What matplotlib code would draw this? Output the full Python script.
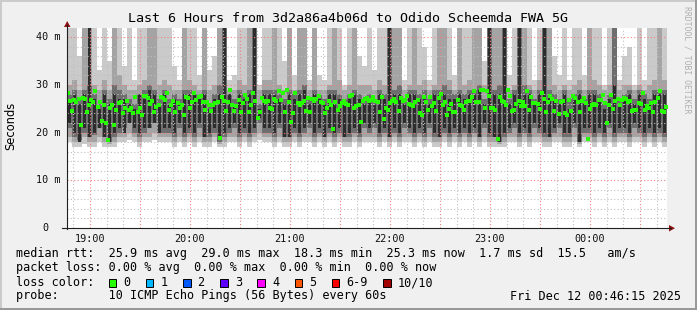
import numpy as np
import matplotlib
matplotlib.use('Agg')
import matplotlib.pyplot as plt
from matplotlib.lines import Line2D
from matplotlib.patches import Rectangle, Polygon
from matplotlib.transforms import blended_transform_factory

# time axis: hours since midnight of Dec 11, end = 00:46:15
endTime = 24 + 46 / 60 + 15 / 3600
spanHours = 6.0

# smoke layers, 120 slots of 3 minutes (ms); 42 = above the top of the graph
lo1 = [18,17,17,17.5,17,17,18,17,17,17,18,18,18.5,18,17,18,18,18.5,18,18,
       18,17,18,17,18,17,18,17,17,18,17,17,18,18,17,18,17,18,18.5,18,
       18,17,18,17,17,18,17,18,18,17,18,17,18,17,18,17,17,18,17,18,
       18,18,17,18,17,18,17,18,18,17,18,17,18,17,17,18,17,18,17,18,
       17,18,17,18,17,17,17,17,18,18,17,18,17,18,18,17,17,18,18,17,
       17,18,17,18,18,17,18,17,18,17,18,18,17,18,18,17,18,17,18,17]
hi1 = [42,42,36,42,42,42,33,42,35,42,42,34,42,31,42,42,42,42,42,42,
       42,34,31,42,42,42,32,42,33,36,42,42,31,32,42,42,42,42,30,42,
       42,42,42,35,42,32,42,42,31,42,32,31,42,42,42,30,42,42,36,34,
       42,33,42,42,42,42,42,31,42,42,42,38,31,42,42,42,42,32,42,42,
       42,42,42,35,42,42,42,42,32,42,42,42,42,31,42,42,42,36,32,42,
       31,42,42,32,42,42,42,30,42,42,31,36,38,30,42,31,42,42,42,42]
lo2 = [19,18,18,19,18,18,19,18,17.5,18,19,19,20,19,18,19,19,20,19,19,
       19,18,19,18,19,18,19,18,18,19,17.5,18,19,19,18,19,18,19,20,19,
       19,18,19,18,18,19,18,19,19,18,19,18,19,18,19,18,18,19,18,19,
       19,19,18,19,18,19,18,19,19,18,19,18,19,18,18,19,18,19,18,19,
       18,19,18,19,18,18,17.5,18,19,19,18,19,18,19,19,18,18,19,19,18,
       18,19,17.5,19,19,18,19,18,19,18,19,19,18,19,19,18,19,18,19,18]
hi2 = [30,31,29,42,42,30,29,31,29,42,32,30,29,29,30,31,42,42,30,31,
       30,29,29,42,31,30,29,42,29,30,42,42,29,29,31,30,42,42,29,31,
       31,42,30,29,42,29,42,42,29,42,29,29,30,42,31,29,30,42,30,30,
       30,29,31,30,42,42,42,29,30,42,30,31,29,30,42,42,31,29,42,30,
       31,42,42,30,42,42,42,42,29,30,42,42,30,29,31,42,42,30,29,30,
       29,30,31,29,42,31,30,29,30,42,29,30,30,29,30,29,30,31,42,31]
lo3 = [21,19,18.5,20,19,19.5,21,19,18,19,20,21,22,20,19,20,21,22,20,20,
       20,19,21,19,20,19,21,19,19,20,18,19,20,21,19,20,19,20,22,20,
       20,19,21,19,19,20,19,20,21,19,20,19,20,19,20,19,19,20,19,21,
       20,21,19,20,19,20,19,21,20,19,20,19,21,19,19,20,19,20,19,20,
       19,20,19,21,19,19,18,19,20,21,19,20,19,21,20,19,19,20,21,19,
       19,21,18,20,20,19,20,19,21,19,20,20,19,21,20,19,20,19,20,19]
hi3 = [28,29,27,29,30,28,26,29,27,30,29,28,27,26,28,29,30,29,27,29,
       27,28,27,29,29,28,28,29,26,28,30,42,28,27,29,28,29,42,26,29,
       29,29,28,27,29,28,29,30,27,29,28,27,29,29,28,27,28,29,28,27,
       28,27,29,28,42,29,30,27,29,29,28,29,27,29,29,30,29,28,29,28,
       29,29,30,27,42,29,30,42,27,29,42,30,29,27,29,42,29,28,27,29,
       27,28,29,27,29,29,28,26,28,42,27,28,29,27,29,28,27,29,29,29]
lo4 = [22,20,18,21,19,20,21,19,18,20,21,20,22,21,20,21,21,22,20,21,
       21,20,22,20,21,20,22,19,20,21,18.5,20,21,22,20,21,20,21,23,21,
       21,20,22,19,19,21,20,21,22,20,21,19,21,20,21,19,20,21,20,22,
       21,22,20,21,19,21,20,22,21,20,21,20,22,20,19,21,20,21,20,21,
       20,21,19,22,20,19,18,20,21,22,20,21,20,22,21,20,19,21,22,20,
       20,22,18,21,21,20,21,20,22,20,21,21,20,22,21,20,21,20,21,20]
hi4 = [27,28,26,28,42,27,25,28,26,28,27,27,26,25,28,27,29,28,26,28,
       26,27,26,28,28,28,27,28,25,27,28,42,28,26,28,27,28,42,25,28,
       28,28,27,26,28,27,28,29,26,28,27,26,28,28,27,26,27,28,27,26,
       27,26,28,27,42,28,28,26,28,28,27,28,26,28,28,28,27,27,28,27,
       28,28,29,26,42,28,28,42,26,28,42,28,28,26,28,42,28,27,26,28,
       25,27,28,26,28,28,27,25,27,30,26,27,28,26,28,27,26,28,28,28]

# median rtt per probe round (ms)
medianMs = [
    28.3,26.7,24.6,26.9,26.4,27.1,21.6,27.2,27.1,24.4,25.8,26.9,26.4,28.6,25.4,26.4,
    22.5,25.7,22.0,18.5,25.1,25.8,21.6,24.8,26.2,26.4,24.1,25.1,26.7,24.8,25.1,24.1,
    27.5,24.3,25.1,23.7,27.7,27.7,27.3,25.9,26.7,24.4,25.4,25.8,27.5,27.2,26.9,28.3,
    24.8,25.8,26.7,24.3,26.2,25.1,25.8,23.7,27.5,27.2,25.1,26.5,28.3,26.9,27.5,27.7,
    26.4,24.8,26.4,25.7,24.6,25.7,26.2,26.4,18.8,27.5,26.7,24.6,26.5,29.0,25.7,24.6,
    25.5,26.9,24.3,26.2,27.9,27.1,24.3,25.8,28.3,26.7,23.1,24.3,27.3,26.7,26.4,
    26.6,25.2,24.9,27.1,26.7,28.6,26.9,28.3,24.4,29.0,26.4,22.3,24.1,28.3,26.2,25.7,
    26.2,26.6,24.6,27.3,24.3,27.1,26.6,27.1,27.7,26.4,26.2,24.1,25.2,26.7,25.8,20.8,
    26.4,24.8,25.5,26.2,26.7,26.0,25.8,27.7,27.9,25.2,25.5,25.8,22.3,26.6,27.1,27.3,
    26.7,26.9,27.5,26.6,26.4,24.3,27.5,22.9,25.2,24.8,26.2,26.6,27.1,26.4,24.6,27.3,
    26.6,26.9,27.7,26.0,25.8,25.5,26.4,26.9,24.1,23.6,27.5,26.4,24.8,27.5,25.5,26.2,
    24.6,27.3,28.0,25.7,26.4,23.6,25.0,26.0,24.4,24.3,26.9,25.7,25.5,24.8,26.4,26.7,
    26.7,27.5,28.6,26.4,26.4,29.0,29.0,25.1,28.8,27.7,25.2,25.2,24.8,18.7,27.5,26.7,
    26.4,25.7,29.0,27.7,24.6,24.8,26.0,26.7,25.5,26.4,25.5,28.8,24.8,27.5,26.2,26.2,
    26.0,25.0,28.3,27.1,24.4,26.4,27.7,27.1,24.6,26.7,23.9,26.4,26.6,24.1,
    23.7,26.9,24.6,27.7,27.3,26.4,24.3,26.7,27.2,26.2,18.7,24.9,25.7,25.9,25.7,26.9,
    26.9,27.9,26.2,22.0,25.7,27.9,24.9,26.7,27.1,25.7,26.9,27.3,27.1,26.4,26.7,24.6,
    24.8,24.8,26.2,25.9,28.3,24.8,25.5,25.1,26.2,24.3,26.4,27.3,28.6,24.6,24.3,25.4]

hourTicks = [19, 20, 21, 22, 23, 24]
hourLabels = ['19:00', '20:00', '21:00', '22:00', '23:00', '00:00']
yTicks = [0, 10, 20, 30, 40]
yLabels = ['0', '10 m', '20 m', '30 m', '40 m']

title = 'Last 6 Hours from 3d2a86a4b06d to Odido Scheemda FWA 5G'
legendLines = [
    'median rtt:  25.9 ms avg  29.0 ms max  18.3 ms min  25.3 ms now  1.7 ms sd  15.5   am/s',
    'packet loss: 0.00 % avg  0.00 % max  0.00 % min  0.00 % now',
    'loss color:',
    'probe:       10 ICMP Echo Pings (56 Bytes) every 60s',
]
lossNames = ['0', '1', '2', '3', '4', '5', '6-9', '10/10']
lossColors = ['#26ff00', '#00b8ff', '#0059ff', '#5e00ff', '#ff00ff', '#ff5500', '#ff0000', '#a10000']
stamp = 'Fri Dec 12 00:46:15 2025'

W, H = 697, 310
MONO = 'DejaVu Sans Mono'


def fx(px):
    return px / W


def fy(py):
    return 1 - py / H


fig = plt.figure(figsize=(W / 100, H / 100), dpi=100, facecolor='#f0f0f0')
ax = fig.add_axes([fx(67), fy(228), (667 - 67) / W, (228 - 28) / H])
ax.set_facecolor('white')

startTime = endTime - spanHours
slot = spanHours / len(lo1)
tSlot = startTime + slot * np.arange(len(lo1))

layers = [(lo1, hi1, '#cacaca', 1.0), (lo2, hi2, '#a4a4a4', 1.0),
          (lo3, hi3, '#6e6e6e', 1.0), (lo4, hi4, '#2c2c2c', 0.45)]
for lo, hi, col, frac in layers:
    lo = np.array(lo, dtype=float)
    hi = np.array(hi, dtype=float)
    ax.bar(tSlot + slot * (1 - frac) / 2, hi - lo, bottom=lo, width=slot * frac,
           align='edge', color=col, linewidth=0, zorder=1)

step = spanHours / len(medianMs)
tMed = startTime + step * (np.arange(len(medianMs)) + 0.5)
ax.plot(tMed, medianMs, ls='none', marker='s', ms=2.3, color='#26ff00',
        mec='#26ff00', mew=0, zorder=4)

ax.set_xlim(startTime, endTime)
ax.set_ylim(0, 41.9)

# grid: minor grey, major red
for t in np.arange(18 + 50 / 60, endTime, 10 / 60):
    if t <= startTime:
        continue
    major = abs(t * 2 - round(t * 2)) < 1e-6
    ax.axvline(t, color='#f08080' if major else '#c0c0c0', lw=0.8,
               ls=(0, (1, 2)), zorder=3)
for v in np.arange(2, 41, 2):
    ax.axhline(v, color='#f08080' if v % 10 == 0 else '#c0c0c0', lw=0.8,
               ls=(0, (1, 2)), zorder=3)

for s in ax.spines.values():
    s.set_visible(False)
ax.set_xticks([])
ax.set_yticks([])

# axes with arrows
fig.add_artist(Line2D([fx(67), fx(67)], [fy(229), fy(25)], color='#202020', lw=0.8))
fig.add_artist(Line2D([fx(62), fx(671)], [fy(228), fy(228)], color='#202020', lw=0.8))
fig.add_artist(Polygon([[fx(64), fy(27)], [fx(70.5), fy(27)], [fx(67.2), fy(21)]],
                       closed=True, color='#8e1010', lw=0))
fig.add_artist(Polygon([[fx(669), fy(225)], [fx(669), fy(231.5)], [fx(675), fy(228.2)]],
                       closed=True, color='#8e1010', lw=0))

xTrans = blended_transform_factory(ax.transData, fig.transFigure)
for h, lab in zip(hourTicks, hourLabels):
    ax.text(h, fy(239.5), lab, transform=xTrans, ha='center', va='center',
            family=MONO, size=7.3, color='#101010')
yTrans = blended_transform_factory(fig.transFigure, ax.transData)
for v, lab in zip(yTicks, yLabels):
    right = 60 if v else 48.5
    ax.text(fx(right), v, lab, transform=yTrans, ha='right', va='center',
            family=MONO, size=7.3, color='#101010')

fig.text(fx(348), fy(19), title, ha='center', va='center', family=MONO, size=9.6)
fig.text(fx(11), fy(126), 'Seconds', rotation=90, ha='center', va='center',
         family='DejaVu Sans', size=8.3)
fig.text(fx(687), fy(60), 'RRDTOOL / TOBI OETIKER', rotation=270, ha='center',
         va='center', family=MONO, size=5.9, color='#b0b0b0')

rowY = [254, 268, 282.5, 296]
for y, line in zip(rowY, legendLines):
    fig.text(fx(16), fy(y), line, ha='left', va='center', family=MONO, size=8.5)
fig.text(fx(681), fy(296), stamp, ha='right', va='center', family=MONO, size=8.5)

# loss colour boxes
adv = 7.09
x = 108.7
for name, col in zip(lossNames, lossColors):
    fig.add_artist(Rectangle((fx(x), fy(287)), 7.5 / W, 8.5 / H, facecolor=col,
                             edgecolor='black', lw=0.7))
    fig.text(fx(x + 14.5), fy(282.5), name, ha='left', va='center', family=MONO, size=8.5)
    x = x + 14.5 + (len(name) + 2) * adv + 1.4

# frame shading
fig.add_artist(Rectangle((0, fy(2)), 1, 2 / H, facecolor='#cbcbcb', lw=0))
fig.add_artist(Rectangle((0, 0), 2 / W, 1, facecolor='#cbcbcb', lw=0))
fig.add_artist(Rectangle((0, 0), 1, 2 / H, facecolor='#999999', lw=0))
fig.add_artist(Rectangle((fx(695), 0), 2 / W, 1, facecolor='#999999', lw=0))

fig.savefig('out.png', dpi=100, facecolor=fig.get_facecolor())
